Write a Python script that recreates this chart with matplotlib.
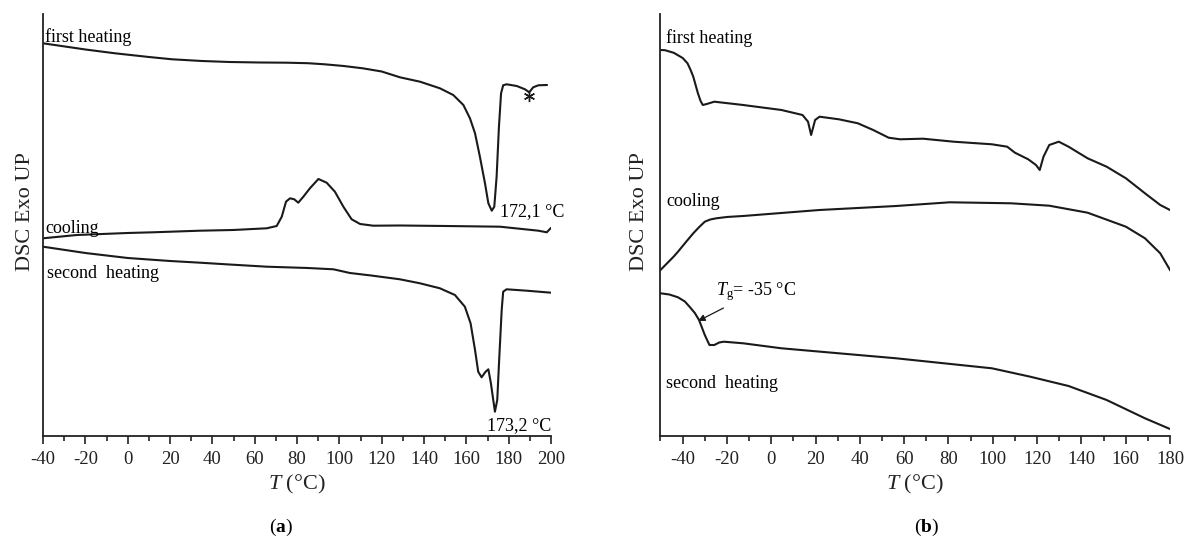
import matplotlib
matplotlib.use("Agg")
import matplotlib.pyplot as plt
from matplotlib.ticker import MultipleLocator

plt.rcParams['font.family'] = ['Liberation Serif', 'DejaVu Serif']
plt.rcParams['mathtext.fontset'] = 'custom'
plt.rcParams['mathtext.rm'] = 'Liberation Serif'
plt.rcParams['mathtext.it'] = 'Liberation Serif:italic'
plt.rcParams['mathtext.bf'] = 'Liberation Serif:bold'
plt.rcParams['axes.unicode_minus'] = False

# ---- panel (a): DSC curves, temperature in degC, signal in arbitrary units
a_heat1_T = [-40, -20, -6, 10, 21, 35, 48, 62, 75, 85, 93, 102, 111, 120, 128.6, 138.1,
             147.5, 153.8, 158.6, 161.7, 164.1, 166.4, 168.8, 170.4, 172.0, 173.2, 174.3,
             175.4, 176.4, 177.4, 179.0, 183.8, 187.7, 189.7, 191.6, 194.0, 198.0]
a_heat1_v = [392.7, 386.5, 382.7, 379, 376.7, 375, 374, 373.5, 373.3, 372.8, 371.7, 370,
             367.7, 364.5, 358.7, 354.3, 347.7, 341, 331, 317.7, 302.7, 279.3, 252.7,
             232.7, 225.3, 229.3, 259.3, 309.3, 342.7, 350.7, 351.7, 350, 346.7, 343.7,
             348.7, 350.7, 351]

a_cool_T = [-40, -24, 0, 12, 34.2, 49.9, 65.7, 70.4, 72.8, 74.8, 76.7, 78.7, 80.6, 83,
            86.1, 90.1, 94, 97.9, 101.9, 105.8, 109.8, 116, 128.6, 150, 175.9, 194, 198, 199.8]
a_cool_v = [197.7, 201, 203, 203.7, 205.3, 206, 207.7, 210, 219.3, 234.3, 237.7, 236.7,
            233.3, 239.3, 247.7, 257, 253.3, 244.3, 229.3, 216.7, 212, 210.3, 210.5, 210,
            209.3, 205.3, 203.7, 207.7]

a_heat2_T = [-40, -20, 0, 20, 34.2, 48, 65.7, 85, 97.2, 105, 115, 128.6, 138.1, 147.5,
             154.6, 159.3, 162, 164.1, 165.6, 167.2, 169.1, 170.4, 171.6, 173.5, 174.6,
             175.5, 176.7, 177.4, 179, 188.5, 200]
a_heat2_v = [189.3, 183, 178, 175, 173.3, 171.5, 169.3, 168, 166.7, 163, 160.5, 156.7,
             152.7, 147.7, 141, 129.3, 112.7, 86, 64.3, 58.7, 64.3, 66.7, 52.7, 24.3, 36,
             76, 126, 144.3, 146.7, 145.3, 143.3]

a_peak1 = (172.1, "172,1 °C")
a_peak2 = (173.2, "173,2 °C")
a_star = (189.7, 340)

# ---- panel (b)
b_heat1_T = [-50, -48, -44, -40, -37.8, -36.5, -35.2, -33.1, -31.9, -30.9, -29.1, -25.7,
             -12.7, 4.6, 14.1, 16.6, 18.0, 19.8, 21.8, 30.5, 39.1, 46.0, 53, 58.1, 68.5,
             82.3, 99.6, 106.5, 110, 116, 119.5, 121.2, 122.9, 125.5, 129.8, 134.2, 142.8,
             151.4, 160.1, 168.7, 175.6, 180]
b_heat1_v = [386, 385.8, 383.2, 378, 372.7, 366.5, 359.3, 342.7, 335, 331, 332, 334.3,
             331, 326, 321, 314.3, 301, 316, 319.3, 316.7, 312.7, 306, 298.3, 296.7, 297.3,
             294.3, 291.7, 289.3, 283.3, 276.7, 271, 266, 279.3, 291, 294.3, 289.3, 277.7,
             269.3, 257.7, 242.7, 231, 226]

b_cool_T = [-50, -48, -44, -42.1, -38.5, -35.2, -32.5, -30, -27.5, -24.8, -20, -12.7,
            21.8, 56.4, 80.6, 108.2, 125.5, 142.8, 160.1, 168.7, 175.6, 180]
b_cool_v = [166, 170.5, 179.5, 184.3, 194, 202.7, 209, 214.3, 216.5, 217.7, 219, 220,
            226, 230, 233.7, 232.7, 230.3, 223.3, 209.3, 197.7, 182.7, 166]

b_heat2_T = [-50, -46, -42.1, -39, -36.9, -34.5, -32.6, -30, -27.9, -25.7, -23.5, -21.4,
             -12.7, 4.6, 30.5, 56.4, 82.3, 99.6, 116.9, 134.2, 151.4, 168.7, 180]
b_heat2_v = [142.7, 141.5, 138.7, 134.5, 129.3, 123, 116, 101, 91, 91, 93.5, 94.3, 92.7,
             87.7, 82.7, 77.7, 71.7, 67.7, 59.3, 50, 36, 17.7, 7]

b_tg = (-33, "$T_\\mathrm{g}$= -35 °C")

line_c = '#1a1a1a'
fig = plt.figure(figsize=(11.86, 5.38), dpi=100)
ax1 = fig.add_axes([0.03626, 0.1896, 0.4646 - 0.03626, 0.974 - 0.1896])
ax2 = fig.add_axes([0.5569, 0.1896, 0.9865 - 0.5569, 0.974 - 0.1896])


def style(ax, xmin, xmax):
    ax.set_xlim(xmin, xmax)
    ax.set_ylim(0, 422)
    for s in ['top', 'right']:
        ax.spines[s].set_visible(False)
    for s in ['left', 'bottom']:
        ax.spines[s].set_linewidth(1.3)
        ax.spines[s].set_color('#222222')
    ax.set_yticks([])
    ax.xaxis.set_major_locator(MultipleLocator(20))
    ax.xaxis.set_minor_locator(MultipleLocator(10))
    ax.tick_params(axis='x', which='major', length=6, width=1.2, direction='out',
                   labelsize=13.5, pad=4.5, colors='#222222')
    ax.tick_params(axis='x', which='minor', length=3.5, width=1.2, direction='out',
                   colors='#222222')
    ax.set_xlabel('$T$ (°C)', fontsize=16, labelpad=4, color='#222222')
    ax.set_ylabel('DSC Exo UP', fontsize=16, color='#222222')


# panel a
style(ax1, -40, 200)
ax1.set_xticks(range(-40, 201, 20))
ax1.plot(a_heat1_T, a_heat1_v, color=line_c, lw=1.5)
ax1.plot(a_cool_T, a_cool_v, color=line_c, lw=1.5)
ax1.plot(a_heat2_T, a_heat2_v, color=line_c, lw=1.5)
ax1.plot(*a_star, marker=(6, 2, 0), ms=8, color=line_c, mew=1)
ax1.text(-39, 394.3, 'first heating', fontsize=13)
ax1.text(-39, 203, 'cooling', fontsize=13)
ax1.text(-38.3, 157.7, 'second  heating', fontsize=13)
ax1.text(a_peak1[0] + 3.8, 220, a_peak1[1], fontsize=13)
ax1.text(a_peak2[0] - 3.3, 6, a_peak2[1], fontsize=13)
ax1.yaxis.set_label_coords(-0.015, 0.531)

# panel b
style(ax2, -50, 180)
ax2.set_xticks(range(-40, 181, 20))
ax2.plot(b_heat1_T, b_heat1_v, color=line_c, lw=1.5)
ax2.plot(b_cool_T, b_cool_v, color=line_c, lw=1.5)
ax2.plot(b_heat2_T, b_heat2_v, color=line_c, lw=1.5)
ax2.text(-47.3, 393.3, 'first heating', fontsize=13)
ax2.text(-47.3, 230, 'cooling', fontsize=13)
ax2.text(-47.3, 47.7, 'second  heating', fontsize=13)
ax2.annotate(b_tg[1], xy=(b_tg[0], 115), xytext=(-24.9, 141), fontsize=13,
             arrowprops=dict(arrowstyle='-|>', color=line_c, lw=0.9,
                             mutation_scale=10, shrinkA=4, shrinkB=0))
ax2.yaxis.set_label_coords(-0.023, 0.531)

fig.text(0.237, 0.019, '($\\mathbf{a}$)', fontsize=14, ha='center', va='center')
fig.text(0.781, 0.019, '($\\mathbf{b}$)', fontsize=14, ha='center', va='center')

fig.savefig('out.png', dpi=100, facecolor='white')
